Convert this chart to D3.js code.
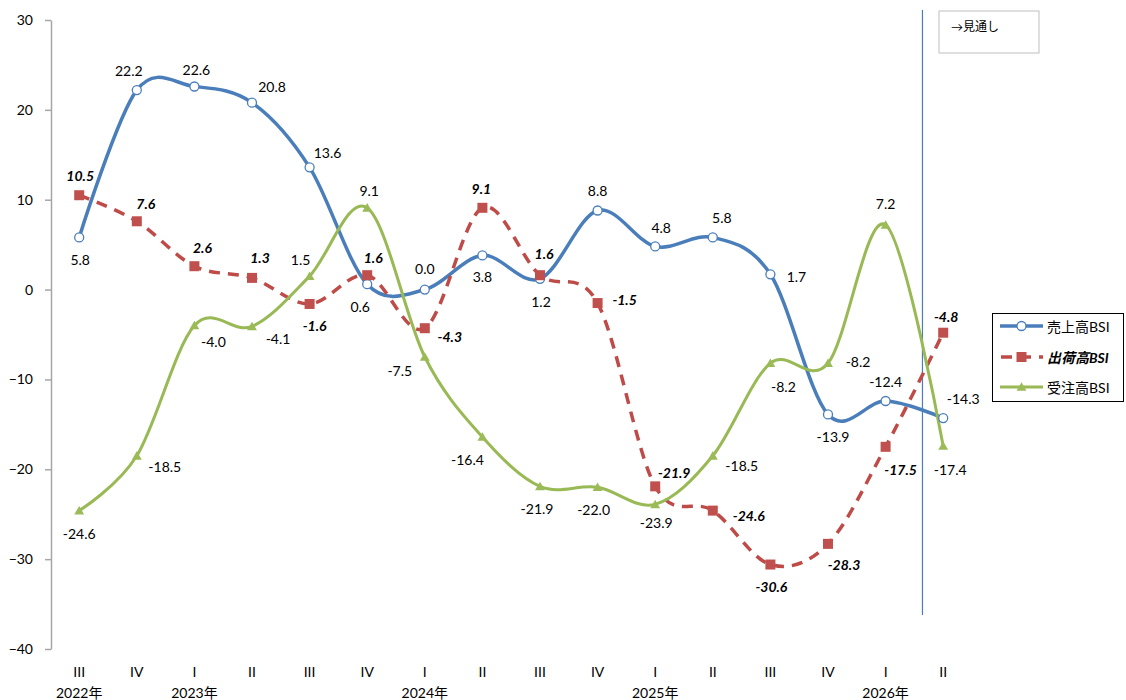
<!DOCTYPE html>
<html>
<head>
<meta charset="utf-8">
<script src="https://cdn.jsdelivr.net/npm/d3@7"></script>
<style>
  html, body { margin: 0; padding: 0; background: #fff; }
  svg text { font-family: Lato, "Noto Sans CJK JP", sans-serif; fill: #000; }
</style>
</head>
<body>
<svg id="chart" width="1126" height="700"></svg>
<script>
// Quarters (Roman numerals) and the year shown under each first quarter
const quarters = ["III","IV","I","II","III","IV","I","II","III","IV","I","II","III","IV","I","II"];
const years    = ["2022年","","2023年","","","","2024年","","","","2025年","","","","2026年",""];

// BSI series
const sales    = [5.8, 22.2, 22.6, 20.8, 13.6, 0.6, 0.0, 3.8, 1.2, 8.8, 4.8, 5.8, 1.7, -13.9, -12.4, -14.3];
const shipment = [10.5, 7.6, 2.6, 1.3, -1.6, 1.6, -4.3, 9.1, 1.6, -1.5, -21.9, -24.6, -30.6, -28.3, -17.5, -4.8];
const orders   = [-24.6, -18.5, -4.0, -4.1, 1.5, 9.1, -7.5, -16.4, -21.9, -22.0, -23.9, -18.5, -8.2, -8.2, 7.2, -17.4];

const seriesNames = ["売上高BSI", "出荷高BSI", "受注高BSI"];
const yTicks = [-40, -30, -20, -10, 0, 10, 20, 30];

// Data-label offsets (dx, dy) from each marker
const salesLabelOff = [[1,22],[-8,-20],[2,-17],[20,-16],[18,-15],[-7,22],[0,-21],[0,21],[1,23],[0,-20],[6,-19],[9,-20],[26,2],[5,22],[0,-19],[20,-20]];
const shipLabelOff  = [[1,-20],[9,-18],[8,-19],[8,-20],[5,22],[6,-18],[25,8],[-1,-19],[4,-22],[27,-4],[19,-14],[36,5],[1,22],[16,21],[15,23],[3,-16]];
const ordLabelOff   = [[0,23],[28,11],[19,16],[26,12],[-9,-17],[2,-17],[-25,14],[-15,23],[-3,22],[-4,22],[1,18],[29,10],[13,23],[30,-2],[0,-21],[7,24]];

const svg = d3.select("#chart");

const x = d3.scaleBand()
  .domain(d3.range(quarters.length))
  .range([50.4, 50.4 + 16 * 57.6]);
const xc = i => x(i) + x.bandwidth() / 2;

const y = d3.scaleLinear().domain([-40, 30]).range([649, 20]);

// Y axis
const yAxis = d3.axisLeft(y).tickValues(yTicks).tickSize(6).tickPadding(12).tickSizeOuter(0);
const gy = svg.append("g").attr("transform", "translate(51,0)").call(yAxis);
gy.select(".domain").attr("stroke", "#a6a6a6").attr("stroke-width", 1.5);
gy.selectAll(".tick line").attr("stroke", "#a6a6a6").attr("stroke-width", 1.5);
gy.selectAll(".tick text").attr("font-size", 14).attr("fill", "#000")
  .style("font-family", "Lato, sans-serif");

// X axis labels (no axis line)
const gx = svg.append("g");
gx.selectAll("text.q").data(quarters).join("text")
  .attr("class", "q")
  .attr("x", (d, i) => xc(i)).attr("y", 671)
  .attr("text-anchor", "middle").attr("dominant-baseline", "central")
  .attr("font-size", 14).text(d => d);
gx.selectAll("text.yr").data(years).join("text")
  .attr("class", "yr")
  .attr("x", (d, i) => xc(i)).attr("y", 692)
  .attr("text-anchor", "middle").attr("dominant-baseline", "central")
  .attr("font-size", 14).text(d => d);

// Outlook divider and note
const divX = xc(14) + 0.64 * x.step();
svg.append("line")
  .attr("x1", divX).attr("x2", divX).attr("y1", 10).attr("y2", 615)
  .attr("stroke", "#4a7ebb").attr("stroke-width", 1.2);
svg.append("rect")
  .attr("x", 939).attr("y", 11).attr("width", 100).attr("height", 42)
  .attr("fill", "#fff").attr("stroke", "#bfbfbf").attr("stroke-width", 1);
svg.append("text")
  .attr("x", 951).attr("y", 26).attr("dominant-baseline", "central")
  .attr("font-size", 12).text("→見通し");

const line = d3.line()
  .x((d, i) => xc(i)).y(d => y(d))
  .curve(d3.curveCardinal.tension(0));

const colors = ["#4a7ebb", "#be4b48", "#98b954"];

// Sales line
svg.append("path").datum(sales)
  .attr("d", line).attr("fill", "none")
  .attr("stroke", colors[0]).attr("stroke-width", 3.5).attr("stroke-linecap", "round");
// Shipments line (dashed)
svg.append("path").datum(shipment)
  .attr("d", line).attr("fill", "none")
  .attr("stroke", colors[1]).attr("stroke-width", 3.5)
  .attr("stroke-dasharray", "11,8");
// Orders line
svg.append("path").datum(orders)
  .attr("d", line).attr("fill", "none")
  .attr("stroke", colors[2]).attr("stroke-width", 3).attr("stroke-linecap", "round");

// Markers
svg.append("g").selectAll("circle").data(sales).join("circle")
  .attr("cx", (d, i) => xc(i)).attr("cy", d => y(d)).attr("r", 4.5)
  .attr("fill", "#fff").attr("stroke", colors[0]).attr("stroke-width", 1.3);
svg.append("g").selectAll("rect").data(shipment).join("rect")
  .attr("x", (d, i) => xc(i) - 5).attr("y", d => y(d) - 5)
  .attr("width", 10).attr("height", 10).attr("fill", "#c0504d");
const tri = d3.symbol().type(d3.symbolTriangle).size(42);
svg.append("g").selectAll("path").data(orders).join("path")
  .attr("d", tri)
  .attr("transform", (d, i) => `translate(${xc(i)},${y(d) + 1})`)
  .attr("fill", "#9bbb59");

// Data labels
function labels(data, offs, bold) {
  svg.append("g").selectAll("text").data(data).join("text")
    .attr("x", (d, i) => xc(i) + offs[i][0])
    .attr("y", (d, i) => y(d) + offs[i][1])
    .attr("text-anchor", "middle").attr("dominant-baseline", "central")
    .attr("font-size", 14)
    .attr("font-weight", bold ? "bold" : "normal")
    .attr("font-style", bold ? "italic" : "normal")
    .text(d => d.toFixed(1));
}
labels(sales, salesLabelOff, false);
labels(shipment, shipLabelOff, true);
labels(orders, ordLabelOff, false);

// Legend
const lg = svg.append("g");
lg.append("rect").attr("x", 992.5).attr("y", 313.5).attr("width", 131).attr("height", 88)
  .attr("fill", "#fff").attr("stroke", "#000").attr("stroke-width", 1);
const rows = [326, 357, 387];
seriesNames.forEach((name, k) => {
  const ry = rows[k];
  const l = lg.append("line").attr("x1", 1000).attr("x2", 1043).attr("y1", ry).attr("y2", ry)
    .attr("stroke", colors[k]).attr("stroke-width", k === 2 ? 3 : 3.5);
  if (k === 1) l.attr("stroke-dasharray", "11,8").attr("stroke-dashoffset", -1);
  if (k === 0) lg.append("circle").attr("cx", 1021.5).attr("cy", ry).attr("r", 4.5)
    .attr("fill", "#fff").attr("stroke", colors[0]).attr("stroke-width", 1.3);
  if (k === 1) lg.append("rect").attr("x", 1016.5).attr("y", ry - 5).attr("width", 10).attr("height", 10)
    .attr("fill", "#c0504d");
  if (k === 2) lg.append("path").attr("d", tri).attr("transform", `translate(1021.5,${ry + 1})`)
    .attr("fill", "#9bbb59");
  lg.append("text").attr("x", 1047).attr("y", ry).attr("dominant-baseline", "central")
    .attr("font-size", 14)
    .attr("font-weight", k === 1 ? "bold" : "normal")
    .attr("font-style", k === 1 ? "italic" : "normal")
    .text(name);
});
</script>
</body>
</html>
